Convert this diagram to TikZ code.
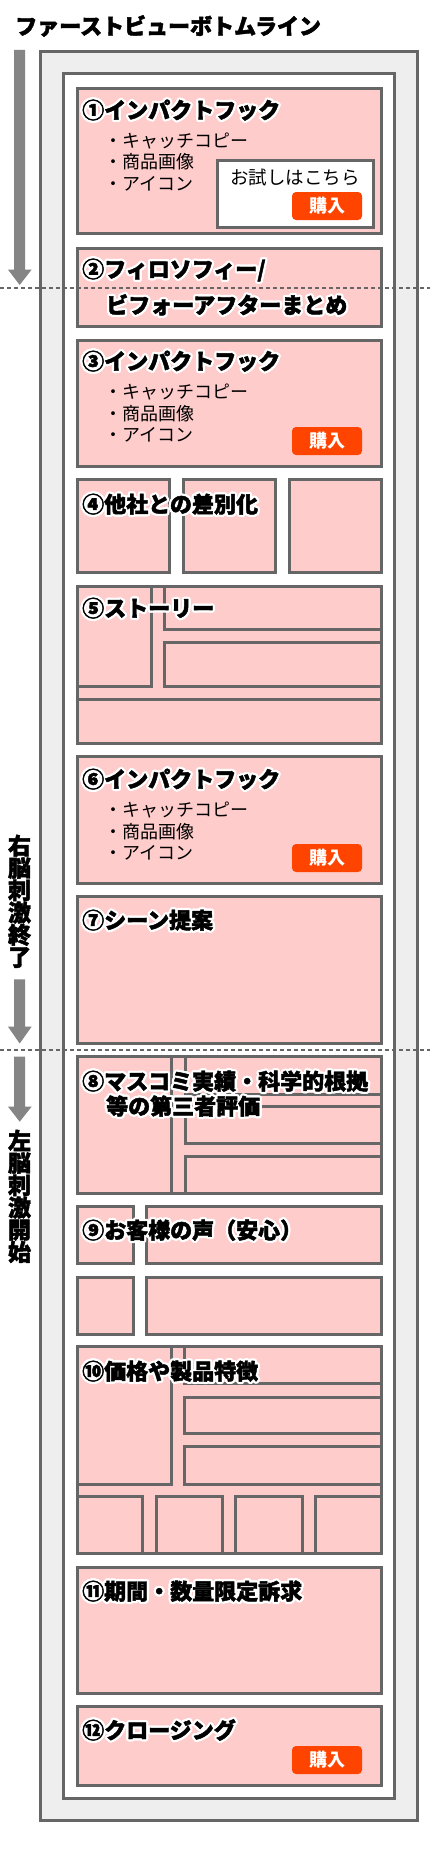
\documentclass[tikz,border=0pt]{standalone}
\usepackage{fontspec}
\setmainfont{Noto Sans CJK JP}
\newfontfamily\heavy{Noto Sans CJK JP}[BoldFeatures={FakeBold=2}]
\definecolor{bord}{HTML}{666666}
\definecolor{pinkf}{HTML}{FFCCCC}
\definecolor{outerf}{HTML}{EEEEEE}
\definecolor{btn}{HTML}{FF4400}
\definecolor{arr}{HTML}{858585}
\newcommand\hcopy[3]{\rlap{\kern#1\raisebox{#2}{\textcolor{white}{#3}}}}
\newcommand\halo[1]{\hcopy{2.2pt}{0pt}{#1}\hcopy{-2.2pt}{0pt}{#1}\hcopy{0pt}{2.2pt}{#1}\hcopy{0pt}{-2.2pt}{#1}\hcopy{1.6pt}{1.6pt}{#1}\hcopy{-1.6pt}{1.6pt}{#1}\hcopy{1.6pt}{-1.6pt}{#1}\hcopy{-1.6pt}{-1.6pt}{#1}\hcopy{2pt}{0.9pt}{#1}\hcopy{-2pt}{0.9pt}{#1}\hcopy{2pt}{-0.9pt}{#1}\hcopy{-2pt}{-0.9pt}{#1}\hcopy{0.9pt}{2pt}{#1}\hcopy{-0.9pt}{2pt}{#1}\hcopy{0.9pt}{-2pt}{#1}\hcopy{-0.9pt}{-2pt}{#1}#1}
\tikzset{
  frame/.style={draw=bord, line width=3pt},
  box/.style={draw=bord, line width=3pt, fill=pinkf},
  ttl/.style={anchor=base west, inner sep=0pt, font=\fontsize{22}{26}\selectfont\heavy\bfseries},
  bul/.style={anchor=base west, inner sep=0pt, font=\fontsize{18}{21}\selectfont},
  buy/.style={fill=btn, rounded corners=4pt, text=white, minimum width=70pt, minimum height=28pt, inner sep=0pt, font=\fontsize{18}{20}\selectfont\bfseries},
  vt/.style={anchor=base, inner sep=0pt, font=\fontsize{23}{23}\selectfont\heavy\bfseries},
  arrowshape/.style={fill=arr, draw=none},
  divider/.style={draw=bord, line width=2.4pt, dash pattern=on 4pt off 3pt}
}
\newcommand\bx[4]{\draw[box] ({#1+1.5},{#2+1.5}) rectangle ({#3-1.5},{#4-1.5});}
\begin{document}
\begin{tikzpicture}[x=1pt,y=-1pt]
\useasboundingbox (0,0) rectangle (430,1873);
\fill[white] (0,0) rectangle (430,1873);
% main title
\node[ttl] (title) at (15,34.4) {ファーストビューボトムライン};
% frames
\draw[frame, fill=outerf] (40.5,51.5) rectangle (417.5,1820.5);
\draw[frame, fill=white] (63.5,74) rectangle (394,1798.5);
% S1
\bx{76}{87}{383}{235}
\draw[frame, fill=white] (217,160) rectangle (373.5,227);
\node[inner sep=0pt, font=\fontsize{18.5}{20}\selectfont] (try) at (295,177) {お試しはこちら};
\node[buy] (b1) at (327,206) {購入};
\node[ttl] (t1) at (82,118.4) {\halo{①インパクトフック}};
\node[bul] (l1a) at (104,147.3) {・キャッチコピー};
\node[bul] (l1b) at (104,168.8) {・商品画像};
\node[bul] (l1c) at (104,190.3) {・アイコン};
% S2
\bx{76}{246.5}{383}{328}
\node[ttl] (t2) at (82,277.4) {\halo{②フィロソフィー/}};
\node[ttl] (t2b) at (106,313.4) {\halo{ビフォーアフターまとめ}};
% S3
\bx{76}{338.5}{383}{468}
\node[buy] (b3) at (327,441) {購入};
\node[ttl] (t3) at (82,369.5) {\halo{③インパクトフック}};
\node[bul] (l3a) at (104,398.5) {・キャッチコピー};
\node[bul] (l3b) at (104,420) {・商品画像};
\node[bul] (l3c) at (104,441.5) {・アイコン};
% S4
\bx{76}{478}{171}{573.5}
\bx{182}{478}{277}{573.5}
\bx{287.5}{478}{383}{573.5}
\node[ttl] (t4) at (82,512.5) {\halo{④他社との差別化}};
% S5
\bx{76}{584.5}{383}{745}
\bx{76}{584.5}{153}{688}
\bx{163}{584.5}{383}{631}
\bx{163}{641}{383}{688}
\bx{76}{698}{383}{745}
\node[ttl] (t5) at (82,616.5) {\halo{⑤ストーリー}};
% S6
\bx{76}{755}{383}{884.5}
\node[buy] (b6) at (327,858) {購入};
\node[ttl] (t6) at (82,787.5) {\halo{⑥インパクトフック}};
\node[bul] (l6a) at (104,816.5) {・キャッチコピー};
\node[bul] (l6b) at (104,838) {・商品画像};
\node[bul] (l6c) at (104,859.5) {・アイコン};
% S7
\bx{76}{895}{383}{1044.5}
\node[ttl] (t7) at (82,928.5) {\halo{⑦シーン提案}};
% S8
\bx{76}{1055}{383}{1195}
\bx{76}{1055}{173}{1195}
\bx{183.5}{1055}{383}{1095.5}
\bx{183.5}{1105}{383}{1145}
\bx{183.5}{1155}{383}{1195}
\node[ttl] (t8) at (82,1089.5) {\halo{⑧マスコミ実績・科学的根拠}};
\node[ttl] (t8b) at (106,1114.5) {\halo{等の第三者評価}};
% S9
\bx{76}{1205}{135}{1265}
\bx{145}{1205}{383}{1265}
\bx{76}{1275.5}{135}{1336}
\bx{145}{1275.5}{383}{1336}
\node[ttl] (t9) at (82,1238.5) {\halo{⑨お客様の声（安心）}};
% S10
\bx{76}{1345}{383}{1554.5}
\bx{76}{1345}{173}{1485.5}
\bx{183}{1345}{383}{1384.5}
\bx{183}{1395.5}{383}{1434.5}
\bx{183}{1445}{383}{1485.5}
\bx{76}{1495}{144}{1554.5}
\bx{154.5}{1495}{223.5}{1554.5}
\bx{234}{1495}{304}{1554.5}
\bx{314}{1495}{383}{1554.5}
\node[ttl] (t10) at (82,1379.5) {\halo{⑩価格や製品特徴}};
% S11
\bx{76}{1565.5}{383}{1695}
\node[ttl] (t11) at (82,1599.5) {\halo{⑪期間・数量限定訴求}};
% S12
\bx{76}{1705}{383}{1787}
\node[buy] (b12) at (327,1760) {購入};
\node[ttl] (t12) at (82,1738.5) {\halo{⑫クロージング}};
% dividers
\coordinate (d1a) at (0,287.7);
\coordinate (d1b) at (430,287.7);
\coordinate (d2a) at (0,1050);
\coordinate (d2b) at (430,1050);
\draw[divider] (d1a) -- (d1b);
\draw[divider] (d2a) -- (d2b);
% arrows
\fill[arrowshape] (14.2,50) -- (25.2,50) -- (25.2,269.5) -- (31.7,269.5) -- (19.7,285) -- (7.9,269.5) -- (14.2,269.5) -- cycle;
\fill[arrowshape] (14.2,979.3) -- (25.2,979.3) -- (25.2,1026.5) -- (31.7,1026.5) -- (19.7,1043.5) -- (7.9,1026.5) -- (14.2,1026.5) -- cycle;
\fill[arrowshape] (14.2,1056.5) -- (25.2,1056.5) -- (25.2,1106.5) -- (31.7,1106.5) -- (19.7,1121.7) -- (7.9,1106.5) -- (14.2,1106.5) -- cycle;
% vertical labels
\foreach \c [count=\i from 0] in {右,脳,刺,激,終,了}
  \node[vt] (r\i) at (19.5,{854.4+22.26*\i}) {\c};
\foreach \c [count=\i from 0] in {左,脳,刺,激,開,始}
  \node[vt] (l\i) at (19.5,{1149.4+22.26*\i}) {\c};
\end{tikzpicture}
\end{document}
